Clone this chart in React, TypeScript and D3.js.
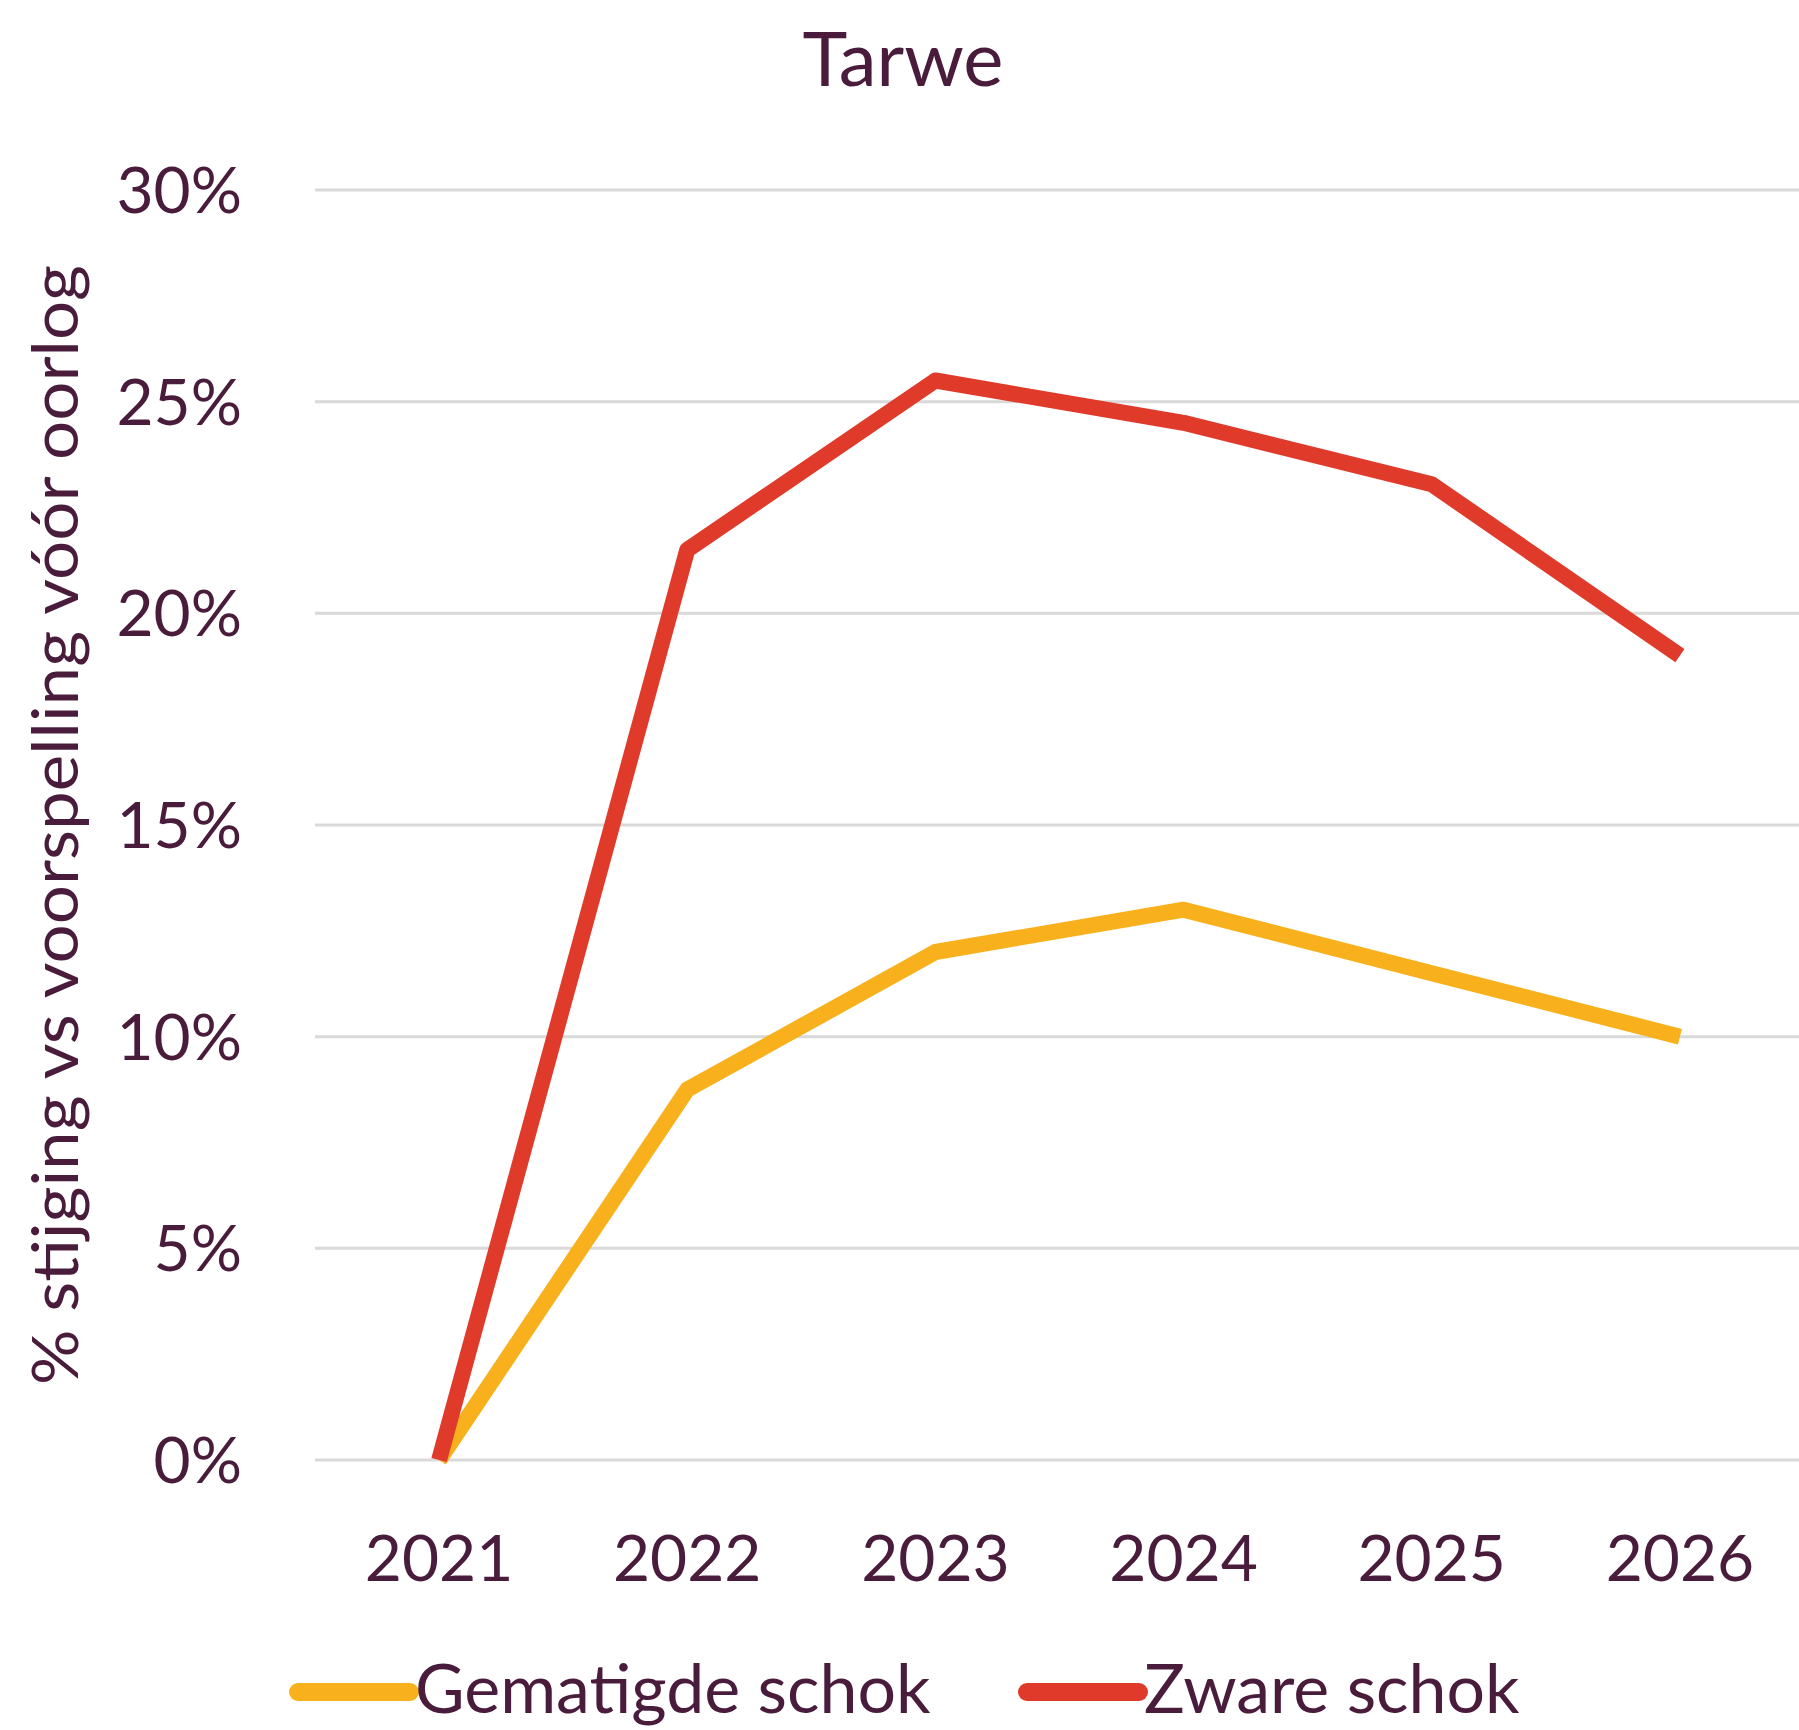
import * as d3 from "d3";

// chart data
const years = ["2021", "2022", "2023", "2024", "2025", "2026"];
const gematigd = [0, 8.75, 12.0, 13.0, 11.5, 10.0];
const zwaar = [0, 21.5, 25.5, 24.5, 23.05, 19.0];
const yTicks = [0, 5, 10, 15, 20, 25, 30];
const seriesNames = ["Gematigde schok", "Zware schok"];
const seriesColors = ["#f8b11c", "#e03a2b"];

const width = 1799;
const height = 1730;
const textColor = "#4a1c3c";
const font = "Lato, 'Open Sans', sans-serif";

const App = () => {
  const x = d3.scalePoint<string>().domain(years).range([315, 1804]).padding(0.5);
  const y = d3.scaleLinear().domain([0, 30]).range([1460, 190]);

  const line = d3
    .line<number>()
    .x((d, i) => x(years[i]) as number)
    .y((d) => y(d));

  const series = [gematigd, zwaar];

  return (
    <svg
      width={width}
      height={height}
      style={{ position: "absolute", left: 0, top: 0, background: "#fff" }}
      fontFamily={font}
    >
      <text x={903} y={86} textAnchor="middle" fontSize={76} fill={textColor}>
        Tarwe
      </text>

      {/* gridlines */}
      {yTicks.map((t) => (
        <line key={"g" + t} x1={315} x2={width} y1={y(t)} y2={y(t)} stroke="#d9d9d9" strokeWidth={3} />
      ))}

      {/* y tick labels */}
      {yTicks.map((t) => (
        <text key={"t" + t} x={242} y={y(t) + 23} textAnchor="end" fontSize={64} fill={textColor}>
          {t}%
        </text>
      ))}

      {/* x tick labels */}
      {years.map((yr) => (
        <text key={yr} x={x(yr)} y={1581} textAnchor="middle" fontSize={64} fill={textColor}>
          {yr}
        </text>
      ))}

      {/* y axis title */}
      <text
        transform={`translate(78, ${y(15)}) rotate(-90)`}
        textAnchor="middle"
        fontSize={64}
        textLength={1120}
        lengthAdjust="spacingAndGlyphs"
        fill={textColor}
      >
        % stijging vs voorspelling vóór oorlog
      </text>

      {/* lines */}
      {series.map((s, i) => (
        <path
          key={seriesNames[i]}
          d={line(s) || ""}
          fill="none"
          stroke={seriesColors[i]}
          strokeWidth={16}
          strokeLinejoin="round"
        />
      ))}

      {/* legend */}
      {[
        { x0: 298, tx: 415 },
        { x0: 1027, tx: 1144 },
      ].map((l, i) => (
        <g key={"l" + i}>
          <line x1={l.x0} x2={l.x0 + 112} y1={1692} y2={1692} stroke={seriesColors[i]} strokeWidth={18} strokeLinecap="round" />
          <text x={l.tx} y={1713} fontSize={68} fill={textColor}>
            {seriesNames[i]}
          </text>
        </g>
      ))}
    </svg>
  );
};

export default App;
